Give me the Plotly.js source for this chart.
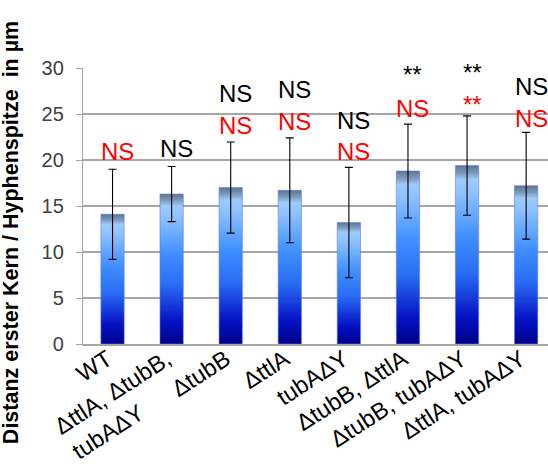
<!DOCTYPE html>
<html>
<head>
<meta charset="utf-8">
<script src="https://cdn.plot.ly/plotly-3.0.1.min.js"></script>
<style>html,body{margin:0;padding:0;background:#fff;}#chart{width:548px;height:467px;}</style>
</head>
<body>
<div id="chart"></div>
<script>
// ---- data ----
const categories = ['WT', 'ΔttlA, ΔtubB,<br>tubAΔY' + '\u00a0'.repeat(8), 'ΔtubB', 'ΔttlA', 'tubAΔY', 'ΔtubB, ΔttlA', 'ΔtubB, tubAΔY', 'ΔttlA, tubAΔY'];
const means = [14.1, 16.3, 17.0, 16.7, 13.2, 18.8, 19.4, 17.2];
const sds = [4.9, 3.0, 4.95, 5.7, 6.0, 5.1, 5.4, 5.8];
const blackLabels = ['', 'NS', 'NS', 'NS', 'NS', '**', '**', 'NS'];
const blackLabelY = [null, 21.3, 27.2, 27.7, 24.3, 29.3, 29.5, 28.0];
const redLabels = ['NS', '', 'NS', 'NS', 'NS', 'NS', '**', 'NS'];
const redLabelY = [20.9, null, 23.8, 24.2, 20.9, 25.6, 26.0, 24.5];
const yTicks = [0, 5, 10, 15, 20, 25, 30];
const yTitle = 'Distanz erster Kern / Hyphenspitze  in µm';

// ---- styles ----
const FONT = 'Liberation Sans, Arial, sans-serif';
const halfW = 0.197;
const barScale = [
  [0, '#000088'], [0.15, '#0412c4'], [0.4, '#2a6ef5'], [0.6, '#3f8fff'],
  [0.84, '#8cc0ff'], [0.92, '#9dcbfb'], [0.96, '#7a98b8'], [1, '#5d7690']
];

const traces = [];
categories.forEach((c, i) => {
  const v = means[i];
  traces.push({
    type: 'scatter', mode: 'lines',
    x: [i - halfW, i + halfW, i + halfW, i - halfW, i - halfW],
    y: [0, 0, v, v, 0],
    fill: 'toself',
    fillgradient: {type: 'vertical', colorscale: barScale},
    line: {width: 0.6, color: '#5a7cf0'},
    hoverinfo: 'skip', showlegend: false
  });
});
traces.push({
  type: 'scatter', mode: 'markers',
  x: categories.map((c, i) => i), y: means,
  marker: {size: 1, opacity: 0},
  error_y: {type: 'data', array: sds, visible: true, color: '#000000', thickness: 1.1, width: 4},
  showlegend: false, hoverinfo: 'skip'
});

const annotations = [];
categories.forEach((c, i) => {
  if (blackLabels[i]) annotations.push({x: i, y: blackLabelY[i], xref: 'x', yref: 'y', text: blackLabels[i], showarrow: false, xshift: 5, yanchor: 'middle', font: {family: FONT, size: 24, color: '#000000'}});
  if (redLabels[i]) annotations.push({x: i, y: redLabelY[i], xref: 'x', yref: 'y', text: redLabels[i], showarrow: false, xshift: 5, yanchor: 'middle', font: {family: FONT, size: 24, color: '#ff0000'}});
});
// y-axis title (placed as a rotated annotation so it can be centred like the reference)
annotations.push({
  xref: 'paper', yref: 'paper', x: -0.155, y: 0.405, xanchor: 'center', yanchor: 'middle',
  text: yTitle, textangle: -90, showarrow: false, borderpad: 0,
  font: {family: FONT, size: 21.5, color: '#000000', weight: 700}
});

const layout = {
  width: 548, height: 467,
  margin: {l: 83, r: 0, t: 68, b: 123, pad: 0},
  paper_bgcolor: '#ffffff', plot_bgcolor: '#ffffff',
  font: {family: FONT},
  xaxis: {
    range: [-0.5, 7.37], tickmode: 'array',
    tickvals: categories.map((c, i) => i), ticktext: categories,
    tickangle: -33, tickfont: {family: FONT, size: 23.5, color: '#000000'},
    ticklabelshift: -5, ticklabelstandoff: -9,
    showgrid: false, zeroline: false, showline: true, linecolor: '#a6a6a6', linewidth: 1.5, ticks: ''
  },
  yaxis: {
    range: [0, 30], tickmode: 'array', tickvals: yTicks,
    tickfont: {family: FONT, size: 20, color: '#404040'},
    gridcolor: '#a6a6a6', gridwidth: 1.2, zeroline: false,
    showline: true, linecolor: '#a6a6a6', linewidth: 1.2,
    ticks: 'outside', ticklen: 6, tickcolor: '#a6a6a6', ticklabelstandoff: 8
  },
  annotations: annotations,
  showlegend: false
};

Plotly.newPlot('chart', traces, layout, {staticPlot: true, displayModeBar: false});
</script>
</body>
</html>
